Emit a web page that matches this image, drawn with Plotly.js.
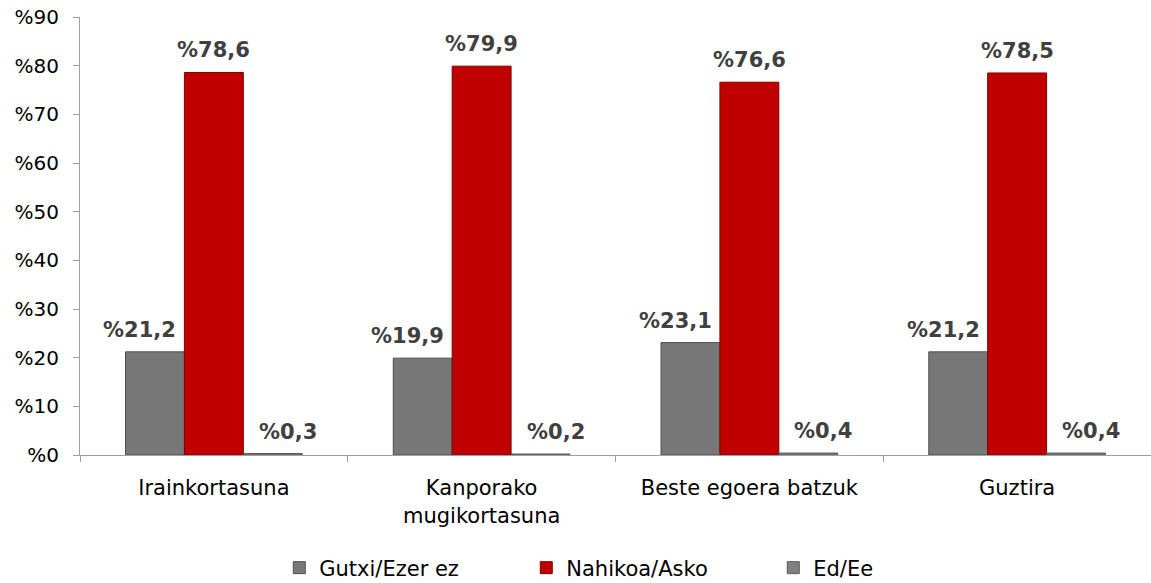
<!DOCTYPE html>
<html>
<head>
<meta charset="utf-8">
<script src="https://cdn.plot.ly/plotly-3.0.1.min.js"></script>
<style>html,body{margin:0;padding:0;background:#fff;}#chart{width:1151px;height:583px;}</style>
</head>
<body>
<div id="chart"></div>
<script>
const categories = ['Irainkortasuna', 'Kanporako<br>mugikortasuna', 'Beste egoera batzuk', 'Guztira'];
const seriesNames = ['Gutxi/Ezer ez', 'Nahikoa/Asko', 'Ed/Ee'];
const gutxi = [21.2, 19.9, 23.1, 21.2];
const nahikoa = [78.6, 79.9, 76.6, 78.5];
const eded = [0.3, 0.2, 0.4, 0.4];
const yTicks = [0, 10, 20, 30, 40, 50, 60, 70, 80, 90];

const fmt = v => '%' + v.toFixed(1).replace('.', ',');
const colors = ['#777777', '#c00000', '#808080'];
const lineColors = ['#505050', '#800000', '#5a5a5a'];
const values = [gutxi, nahikoa, eded];
const labelShift = [-74, 0, 74];

const traces = values.map((vals, i) => ({
  type: 'bar',
  name: seriesNames[i],
  x: categories,
  y: vals,
  marker: {color: colors[i], line: {color: lineColors[i], width: 1}},
  hoverinfo: 'none'
}));

const annotations = [];
values.forEach((vals, i) => {
  vals.forEach((v, j) => {
    annotations.push({
      x: categories[j], y: v, xref: 'x', yref: 'y',
      text: fmt(v), showarrow: false,
      xanchor: 'center', yanchor: 'middle',
      xshift: labelShift[i], yshift: 22,
      font: {family: 'DejaVu Sans', size: 21, color: '#404040', weight: 'bold'}
    });
  });
});

const layout = {
  width: 1151, height: 583,
  margin: {l: 80, r: 0, t: 17, b: 128, autoexpand: false},
  paper_bgcolor: '#fff', plot_bgcolor: '#fff',
  barmode: 'group',
  bargap: 0.34,
  bargroupgap: 0,
  font: {family: 'DejaVu Sans', size: 21, color: '#000'},
  showlegend: true,
  annotations: annotations,
  legend: {
    orientation: 'h', x: 0.532, xanchor: 'center', y: -0.258, yanchor: 'middle',
    font: {family: 'DejaVu Sans', size: 21, color: '#000'},
    entrywidth: 202, entrywidthmode: 'pixels', itemwidth: 30,
    traceorder: 'normal'
  },
  xaxis: {
    type: 'category',
    showline: true, linecolor: '#a0a0a0', linewidth: 1,
    ticks: 'outside', tickson: 'boundaries', ticklen: 6, tickcolor: '#a0a0a0',
    ticklabelstandoff: 14,
    tickfont: {family: 'DejaVu Sans', size: 21, color: '#000'},
    showgrid: false, zeroline: false
  },
  yaxis: {
    range: [0, 90], tickvals: yTicks, ticktext: yTicks.map(v => '%' + v),
    showline: true, linecolor: '#a0a0a0', linewidth: 1,
    ticks: 'outside', ticklen: 6, tickcolor: '#a0a0a0',
    ticklabelstandoff: 10,
    tickfont: {family: 'DejaVu Sans', size: 20, color: '#000'},
    showgrid: false, zeroline: false
  }
};

Plotly.newPlot('chart', traces, layout, {staticPlot: true});
</script>
</body>
</html>
